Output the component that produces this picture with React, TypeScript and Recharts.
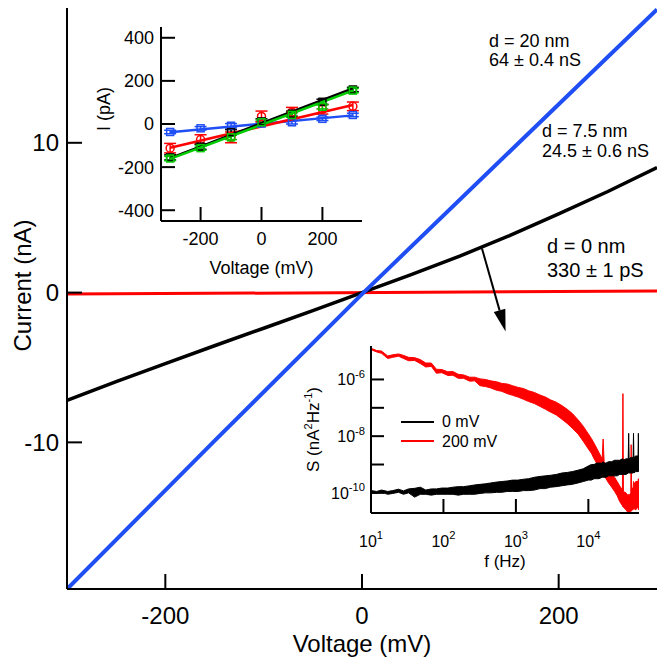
import React from "react";
import {
  ComposedChart,
  Line,
  Scatter,
  ErrorBar,
  Area,
  XAxis,
  YAxis,
  ReferenceLine,
  Legend,
} from "recharts";

const FONT = '"Liberation Sans", Arial, Helvetica, sans-serif';
const BLUE = "#1f4ef5";
const RED = "#f00";
const GREEN = "#00cc00";

// ---- main I-V curves (mV, nA)
const volts75 = [-300, -250, -200, -150, -100, -50, 0, 50, 100, 150, 200, 250, 300];
const current75 = [-7.2, -5.95, -4.75, -3.55, -2.38, -1.2, 0, 1.2, 2.45, 3.8, 5.25, 6.75, 8.35];
const volts20 = [-300, -150, 0, 150, 300];
const current20 = [-19.8, -9.9, -0.1, 9.4, 18.9];
const volts0 = [-300, 300];
const current0 = [-0.1, 0.1];
const arrowFrom = { x: 122, y: 2.95 };
const arrowTo = { x: 146, y: -2.6 };

// ---- inset: low-bias I-V (mV, pA)
const insetVolts = [-300, -200, -100, 0, 100, 200, 300];
const blackPA = [-155, -105, -38, 12, 48, 103, 160];
const blackErr = [12, 12, 12, 12, 12, 12, 10];
const greenPA = [-160, -112, -62, 8, 42, 80, 155];
const greenErr = [10, 10, 10, 10, 10, 10, 10];
const redPA = [-112, -72, -62, 35, 55, 68, 82];
const redErr = [22, 22, 25, 25, 22, 22, 20];
const bluePA = [-37, -20, -8, 2, 8, 24, 42];
const blueErr = [8, 8, 10, 8, 8, 8, 8];
const fitVolts = [-300, 300];
const blackFit = [-158, 165];
const greenFit = [-162, 155];
const redFit = [-110, 88];
const blueFit = [-38, 40];

// ---- inset: noise spectra, log10 S (nA^2/Hz) band edges
const freqHz = [10, 12, 14, 17, 20, 24, 28, 33, 40, 48, 57, 68, 80, 95, 115, 135, 160, 190, 230, 270, 320, 380, 450, 540, 640, 760, 900, 1070, 1270, 1500, 1800, 2150, 2550, 3000, 3600, 4300, 5100, 6000, 7200, 8500, 10000, 11000, 12000, 13000, 14000, 15500, 16000, 16500, 17500, 19000, 21000, 23000, 25000, 27000, 29500, 30000, 30500, 33000, 35500, 36000, 36500, 38500, 39000, 39500, 41500, 42000, 42500, 45000, 48500, 49000, 49500, 50000];
const red200Lo = [-4.95, -5.03, -5.08, -5.26, -5.22, -5.18, -5.26, -5.34, -5.33, -5.44, -5.56, -5.54, -5.78, -5.76, -5.86, -5.85, -5.96, -5.96, -6.06, -6.05, -6.22, -6.25, -6.3, -6.38, -6.42, -6.5, -6.56, -6.62, -6.7, -6.78, -6.85, -6.95, -7.05, -7.15, -7.25, -7.4, -7.55, -7.72, -7.92, -8.18, -8.45, -8.6, -8.8, -8.95, -9.1, -9.3, -9.35, -9.4, -9.5, -9.65, -9.8, -9.95, -10.1, -10.3, -10.45, -10.5, -10.5, -10.6, -10.7, -10.7, -10.7, -10.65, -10.65, -10.6, -10.6, -10.5, -10.55, -10.6, -10.5, -10.5, -10.6, -10.4];
const red200Hi = [-4.9, -4.98, -5.0, -5.17, -5.13, -5.1, -5.15, -5.22, -5.23, -5.3, -5.42, -5.42, -5.64, -5.65, -5.73, -5.72, -5.82, -5.84, -5.92, -5.92, -5.98, -6.0, -6.05, -6.08, -6.14, -6.16, -6.22, -6.28, -6.32, -6.4, -6.46, -6.55, -6.62, -6.72, -6.8, -6.92, -7.05, -7.2, -7.42, -7.65, -7.92, -8.08, -8.25, -8.42, -8.58, -8.8, -8.1, -8.9, -9.0, -9.12, -9.28, -9.45, -9.6, -9.75, -9.9, -6.5, -9.95, -10.0, -10.1, -10.05, -10.1, -10.0, -8.3, -9.9, -9.8, -9.6, -9.7, -9.6, -9.6, -9.5, -9.8, -9.6];
const black0Lo = [-10.0, -10.02, -9.98, -10.05, -10.02, -9.98, -10.05, -10.0, -10.15, -10.05, -10.05, -10.08, -10.05, -10.05, -10.05, -10.05, -10.08, -10.05, -10.05, -10.05, -10.02, -10.0, -10.0, -9.98, -9.98, -9.95, -9.95, -9.95, -9.92, -9.92, -9.9, -9.85, -9.85, -9.8, -9.78, -9.75, -9.72, -9.7, -9.65, -9.6, -9.55, -9.55, -9.5, -9.5, -9.5, -9.45, -9.45, -9.45, -9.45, -9.4, -9.4, -9.4, -9.4, -9.35, -9.35, -9.35, -9.35, -9.35, -9.3, -9.3, -9.3, -9.3, -9.3, -9.3, -9.3, -9.25, -9.3, -9.25, -9.25, -9.2, -9.25, -9.2];
const black0Hi = [-9.92, -9.95, -9.9, -9.95, -9.92, -9.87, -9.93, -9.86, -9.84, -9.8, -9.9, -9.86, -9.86, -9.83, -9.83, -9.8, -9.78, -9.78, -9.75, -9.72, -9.7, -9.68, -9.65, -9.62, -9.6, -9.58, -9.55, -9.55, -9.52, -9.5, -9.45, -9.42, -9.4, -9.38, -9.35, -9.3, -9.28, -9.25, -9.2, -9.15, -9.05, -9.0, -9.0, -8.95, -8.95, -8.95, -8.9, -8.95, -8.95, -8.9, -8.9, -8.85, -8.85, -8.85, -8.8, -8.8, -8.85, -8.8, -8.8, -7.9, -8.8, -8.75, -8.8, -8.75, -8.75, -7.9, -8.75, -8.7, -8.7, -7.9, -8.7, -8.7];

const pts = (xs: number[], ys: number[], es?: number[]) =>
  xs.map((v, k) => ({ v, i: ys[k], e: es ? es[k] : 0 }));

const spectrum = freqHz.map((f, k) => ({
  f,
  red: [10 ** red200Lo[k], 10 ** red200Hi[k]],
  black: [10 ** black0Lo[k], 10 ** black0Hi[k]],
}));

const frame = { stroke: "#000", strokeWidth: 2 };

const decade = (v: number, size: number) => (
  <>
    <tspan>10</tspan>
    <tspan dy={-size * 0.45} fontSize={size * 0.7}>
      {Math.round(Math.log10(v))}
    </tspan>
  </>
);

// inward ticks: tickSize=0 so p.x/p.y sit "gap" px off the axis line
function bottomTick(gap: number, len: number, size: number, log = false) {
  return (p: any) => {
    const axisY = p.y - gap;
    const v = p.payload.value;
    return (
      <g>
        <line x1={p.x} x2={p.x} y1={axisY} y2={axisY - len} stroke="#000" strokeWidth={2} />
        <text x={p.x} y={p.y} dy="0.72em" textAnchor="middle" fontSize={size} fill="#000">
          {log ? decade(v, size) : v}
        </text>
      </g>
    );
  };
}

function leftTick(gap: number, len: number, size: number, log = false) {
  return (p: any) => {
    const axisX = p.x + gap;
    const v = p.payload.value;
    const showLabel = !log || Math.round(Math.log10(v)) % 2 === 0;
    return (
      <g>
        <line x1={axisX} x2={axisX + len} y1={p.y} y2={p.y} stroke="#000" strokeWidth={2} />
        {showLabel && (
          <text x={p.x} y={p.y} dy="0.36em" textAnchor="end" fontSize={size} fill="#000">
            {log ? decade(v, size) : v}
          </text>
        )}
      </g>
    );
  };
}

const xTitle = (text: React.ReactNode, dy: number, size: number) => (p: any) => {
  const vb = p.viewBox;
  return (
    <text x={vb.x + vb.width / 2} y={vb.y + dy} textAnchor="middle" fontSize={size} fill="#000">
      {text}
    </text>
  );
};

const yTitle = (text: React.ReactNode, dx: number, size: number, shift = 0) => (p: any) => {
  const vb = p.viewBox;
  const cx = vb.x + dx;
  const cy = vb.y + vb.height / 2 + shift;
  return (
    <text x={cx} y={cy} transform={`rotate(-90 ${cx} ${cy})`} textAnchor="middle" dy="0.36em" fontSize={size} fill="#000">
      {text}
    </text>
  );
};

const Arrow = (p: any) => {
  const { x1, y1, x2, y2 } = p;
  const dx = x2 - x1;
  const dy = y2 - y1;
  const L = Math.hypot(dx, dy);
  const ux = dx / L;
  const uy = dy / L;
  const bx = x2 - ux * 22;
  const by = y2 - uy * 22;
  return (
    <g>
      <line x1={x1} y1={y1} x2={bx} y2={by} stroke="#000" strokeWidth={2} />
      <polygon points={`${x2},${y2} ${bx - uy * 6},${by + ux * 6} ${bx + uy * 6},${by - ux * 6}`} fill="#000" />
    </g>
  );
};

const square = (color: string) => (p: any) => (
  <rect x={p.cx - 3.5} y={p.cy - 3.5} width={7} height={7} fill="none" stroke={color} strokeWidth={1.5} />
);
const circle = (color: string) => (p: any) => (
  <circle cx={p.cx} cy={p.cy} r={4} fill="none" stroke={color} strokeWidth={1.5} />
);

function MainChart() {
  return (
    <ComposedChart width={669} height={666} margin={{ top: 8, right: 12, bottom: 0, left: 0 }}>
      <XAxis
        dataKey="v"
        type="number"
        domain={[-300, 300]}
        ticks={[-200, 0, 200]}
        allowDataOverflow
        height={77}
        tickSize={0}
        tickMargin={18}
        tickLine={false}
        axisLine={frame}
        interval={0}
        tick={bottomTick(18, 15, 24)}
        label={{ content: xTitle("Voltage (mV)", 63, 24) }}
      />
      <XAxis xAxisId="top" orientation="top" type="number" domain={[-300, 300]} allowDataOverflow height={0} tick={false} tickLine={false} axisLine={frame} />
      <YAxis
        dataKey="i"
        type="number"
        domain={[-19.79, 19.0]}
        ticks={[-10, 0, 10]}
        allowDataOverflow
        width={67}
        tickSize={0}
        tickMargin={8}
        tickLine={false}
        axisLine={frame}
        interval={0}
        tick={leftTick(8, 15, 24)}
        label={{ content: yTitle("Current (nA)", 22, 24, -13) }}
      />
      <YAxis yAxisId="right" orientation="right" type="number" domain={[-19.79, 19.0]} allowDataOverflow width={0} tick={false} tickLine={false} axisLine={frame} />
      <Line data={pts(volts0, current0)} dataKey="i" stroke={RED} strokeWidth={3} dot={false} isAnimationActive={false} />
      <Line data={pts(volts75, current75)} dataKey="i" stroke="#000" strokeWidth={3.5} dot={false} isAnimationActive={false} />
      <Line data={pts(volts20, current20)} dataKey="i" stroke={BLUE} strokeWidth={4} dot={false} isAnimationActive={false} />
      <ReferenceLine segment={[arrowFrom, arrowTo]} ifOverflow="visible" shape={Arrow} />
    </ComposedChart>
  );
}

function IVInset() {
  const series = [
    { d: pts(insetVolts, bluePA, blueErr), fit: pts(fitVolts, blueFit), c: BLUE, shape: square(BLUE) },
    { d: pts(insetVolts, redPA, redErr), fit: pts(fitVolts, redFit), c: RED, shape: circle(RED) },
    { d: pts(insetVolts, blackPA, blackErr), fit: pts(fitVolts, blackFit), c: "#000", shape: square("#000") },
    { d: pts(insetVolts, greenPA, greenErr), fit: pts(fitVolts, greenFit), c: GREEN, shape: square(GREEN) },
  ];
  return (
    <ComposedChart width={290} height={280} margin={{ top: 17, right: 8, bottom: 0, left: 0 }}>
      <XAxis
        dataKey="v"
        type="number"
        domain={[-330, 330]}
        ticks={[-200, 0, 200]}
        allowDataOverflow
        height={69}
        tickSize={0}
        tickMargin={11}
        tickLine={false}
        axisLine={frame}
        interval={0}
        tick={bottomTick(11, 14, 18)}
        label={{ content: xTitle("Voltage (mV)", 53, 18) }}
      />
      <XAxis xAxisId="top" orientation="top" type="number" domain={[-330, 330]} allowDataOverflow height={0} tick={false} tickLine={false} axisLine={frame} />
      <YAxis
        dataKey="i"
        type="number"
        domain={[-450, 450]}
        ticks={[-400, -200, 0, 200, 400]}
        allowDataOverflow
        width={81}
        tickSize={0}
        tickMargin={7}
        tickLine={false}
        axisLine={frame}
        interval={0}
        tick={leftTick(7, 14, 18)}
        label={{ content: yTitle("I (pA)", 24, 18, -15) }}
      />
      <YAxis yAxisId="right" orientation="right" type="number" domain={[-450, 450]} allowDataOverflow width={0} tick={false} tickLine={false} axisLine={frame} />
      {series.map((s, k) => (
        <Scatter key={`s${k}`} data={s.d} dataKey="i" shape={s.shape} isAnimationActive={false}>
          <ErrorBar dataKey="e" direction="y" width={6} stroke={s.c} strokeWidth={1.5} />
        </Scatter>
      ))}
      {series.map((s, k) => (
        <Line key={`l${k}`} data={s.fit} dataKey="i" stroke={s.c} strokeWidth={2.5} dot={false} isAnimationActive={false} />
      ))}
    </ComposedChart>
  );
}

function NoiseInset() {
  return (
    <ComposedChart data={spectrum} width={355} height={245} margin={{ top: 11, right: 11, bottom: 0, left: 0 }}>
      <XAxis
        dataKey="f"
        type="number"
        scale="log"
        domain={[10, 50000]}
        ticks={[10, 100, 1000, 10000]}
        allowDataOverflow
        height={67}
        tickSize={0}
        tickMargin={22}
        tickLine={false}
        axisLine={frame}
        interval={0}
        tick={bottomTick(22, 14, 16, true)}
        label={{ content: xTitle("f (Hz)", 54, 17) }}
      />
      <XAxis xAxisId="top" orientation="top" type="number" scale="log" domain={[10, 50000]} allowDataOverflow height={0} tick={false} tickLine={false} axisLine={frame} />
      <YAxis
        type="number"
        scale="log"
        domain={[10 ** -10.71, 10 ** -4.82]}
        ticks={[1e-10, 1e-9, 1e-8, 1e-7, 1e-6]}
        allowDataOverflow
        width={76}
        tickSize={0}
        tickMargin={6}
        tickLine={false}
        axisLine={frame}
        interval={0}
        tick={leftTick(6, 13, 16, true)}
        label={{
          content: yTitle(
            <>
              S (nA<tspan dy={-7} fontSize={11}>2</tspan>
              <tspan dy={7}>Hz</tspan>
              <tspan dy={-7} fontSize={11}>-1</tspan>
              <tspan dy={7}>)</tspan>
            </>,
            18,
            17
          ),
        }}
      />
      <YAxis yAxisId="right" orientation="right" type="number" scale="log" domain={[10 ** -10.71, 10 ** -4.82]} allowDataOverflow width={0} tick={false} tickLine={false} axisLine={frame} />
      <Area name="200 mV" dataKey="red" type="linear" stroke={RED} strokeWidth={1} fill={RED} fillOpacity={1} dot={false} activeDot={false} legendType="line" isAnimationActive={false} />
      <Area name="0 mV" dataKey="black" type="linear" stroke="#000" strokeWidth={1} fill="#000" fillOpacity={1} dot={false} activeDot={false} legendType="line" isAnimationActive={false} />
      <Legend
        layout="vertical"
        align="center"
        verticalAlign="middle"
        wrapperStyle={{ position: "absolute", left: 106, top: 77, width: "auto", height: "auto" }}
        content={(props: any) => (
          <div style={{ fontSize: 16, lineHeight: "19.6px" }}>
            {(props.payload || []).map((e: any) => (
              <div key={e.value} style={{ display: "flex", alignItems: "center" }}>
                <svg width={33} height={4}>
                  <line x1={0} x2={33} y1={2} y2={2} stroke={e.color} strokeWidth={2} />
                </svg>
                <span style={{ marginLeft: 8 }}>{e.value}</span>
              </div>
            ))}
          </div>
        )}
      />
    </ComposedChart>
  );
}

export default function App() {
  return (
    <div style={{ position: "absolute", left: 0, top: 0, width: 669, height: 666, background: "#fff", fontFamily: FONT, color: "#000" }}>
      <MainChart />
      <div style={{ position: "absolute", left: 80, top: 10 }}>
        <IVInset />
      </div>
      <div style={{ position: "absolute", left: 295, top: 335 }}>
        <NoiseInset />
      </div>
      <svg width={669} height={666} style={{ position: "absolute", left: 0, top: 0, pointerEvents: "none" }}>
        <g fontSize={18} fill="#000">
          <text x={489} y={47}>d = 20 nm</text>
          <text x={489} y={66}>64 ± 0.4 nS</text>
          <text x={542} y={137}>d = 7.5 nm</text>
          <text x={542} y={157}>24.5 ± 0.6 nS</text>
        </g>
        <g fontSize={20} fill="#000">
          <text x={547} y={253}>d = 0 nm</text>
          <text x={547} y={277}>330 ± 1 pS</text>
        </g>
      </svg>
    </div>
  );
}
